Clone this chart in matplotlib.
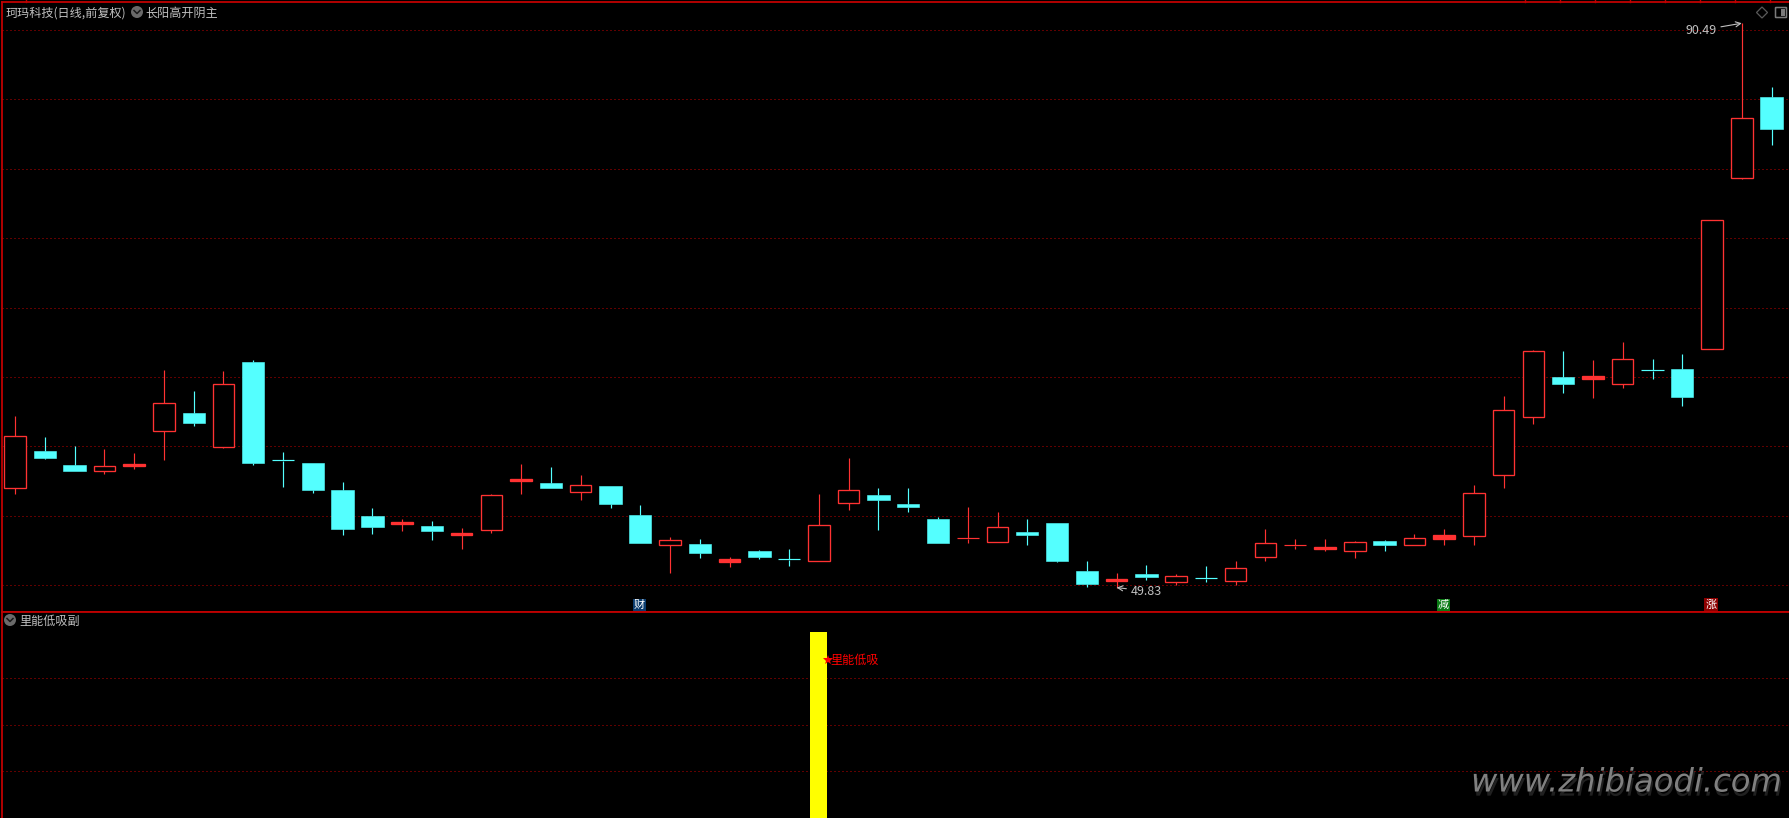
#coding=utf-8
import matplotlib
matplotlib.use('Agg')
from matplotlib import pyplot as plt
from matplotlib.patches import Rectangle, Circle, Polygon, FancyBboxPatch
import matplotlib.patheffects as pe

plt.rcParams['font.family'] = ['Noto Sans CJK SC', 'DejaVu Sans']

# candle values, one per day
tops = [60.72, 59.67, 58.66, 58.56, 58.73, 63.10, 62.41, 64.47, 66.08, 59.02,
        58.80, 56.86, 54.98, 54.55, 54.26, 53.76, 56.47, 57.65, 57.36, 57.19,
        57.15, 55.06, 53.23, 52.97, 51.86, 52.46, 51.89, 54.31, 56.83, 56.50,
        55.85, 54.77, 53.40, 54.17, 53.83, 54.48, 51.02, 50.45, 50.81, 50.64,
        50.50, 51.22, 53.02, 52.87, 52.75, 53.09, 53.18, 53.38, 53.59, 56.62,
        62.60, 66.85, 65.00, 65.05, 66.27, 65.50, 65.57, 76.31, 83.63, 85.17]
bottoms = [56.98, 59.16, 58.23, 58.25, 58.59, 61.13, 61.69, 59.98, 58.80, 58.97,
           56.86, 54.05, 54.19, 54.41, 53.91, 53.62, 54.00, 57.51, 57.00, 56.74,
           55.85, 53.04, 52.92, 52.32, 51.69, 52.03, 51.84, 51.77, 55.94, 56.14,
           55.63, 53.04, 53.35, 53.13, 53.62, 51.74, 50.09, 50.30, 50.59, 50.25,
           50.45, 50.33, 52.06, 52.83, 52.61, 52.49, 52.90, 52.92, 53.35, 53.57,
           57.96, 62.14, 64.50, 64.88, 64.52, 65.46, 63.56, 67.05, 79.36, 82.89]
highs = [62.19, 60.68, 60.00, 59.81, 59.52, 65.50, 63.99, 65.43, 66.22, 59.60,
         58.80, 57.44, 55.56, 54.77, 54.63, 54.12, 56.57, 58.73, 58.52, 57.94,
         57.15, 55.78, 53.47, 53.33, 52.03, 52.54, 52.61, 56.57, 59.16, 57.00,
         57.00, 54.91, 55.63, 55.27, 54.77, 54.48, 51.74, 50.88, 51.45, 50.81,
         51.38, 51.74, 54.05, 53.33, 53.33, 53.18, 53.26, 53.69, 54.05, 57.22,
         63.63, 66.95, 66.87, 66.22, 67.52, 66.30, 66.66, 76.31, 90.49, 85.89]
lows = [56.57, 59.09, 58.23, 58.01, 58.37, 59.02, 61.47, 59.88, 58.66, 57.07,
        56.64, 53.62, 53.69, 53.91, 53.26, 52.61, 53.76, 56.57, 57.00, 56.14,
        55.56, 53.04, 50.88, 51.96, 51.31, 51.89, 51.38, 51.77, 55.42, 53.98,
        55.27, 53.04, 53.04, 53.13, 52.90, 51.67, 49.87, 49.83, 50.37, 50.01,
        50.23, 49.99, 51.74, 52.61, 52.47, 51.96, 52.47, 52.92, 52.90, 52.90,
        57.00, 61.61, 63.85, 63.49, 64.21, 64.85, 62.91, 67.05, 79.26, 81.71]
# 1 = up day (hollow red), 0 = down day (solid cyan)
ups = [1, 0, 0, 1, 1, 1, 0, 1, 0, 0,
       0, 0, 0, 1, 0, 1, 1, 1, 0, 1,
       0, 0, 1, 0, 1, 0, 0, 1, 1, 0,
       0, 0, 1, 1, 0, 0, 0, 1, 0, 1,
       0, 1, 1, 1, 1, 1, 0, 1, 1, 1,
       1, 1, 0, 1, 1, 0, 0, 1, 1, 0]

price_levels = [90, 85, 80, 75, 70, 65, 60, 55, 50]
signal_levels = [1, 2, 3]
signal_day = 27
signal_value = 4
signal_pos = 3.39
signal_label = '里能低吸'
flag_days = [21, 48, 57]
flag_labels = ['财', '减', '涨']
flag_colors = ['#0b3c6e', '#0a7a14', '#8c0000']
title_stock = '珂玛科技(日线,前复权)'
title_main = '长阳高开阴主'
title_sub = '里能低吸副'

RED = '#ff3232'
CYAN = '#54ffff'
FRAME = '#c00000'
GRID = '#c00000'
GREY = '#c0c0c0'

W, H = 1789, 818
fig = plt.figure(figsize=(W / 100, H / 100), dpi=100, facecolor='black')

ax = fig.add_axes([2 / W, (H - 612) / H, (W - 2) / W, 610 / H], facecolor='black')
ax2 = fig.add_axes([2 / W, 0, (W - 2) / W, (H - 612) / H], facecolor='black')
over = fig.add_axes([0, 0, 1, 1], facecolor='none')
over.set_xlim(0, W)
over.set_ylim(H, 0)
over.axis('off')

for a in (ax, ax2):
    a.set_xlim(-0.44, 59.585)
    a.set_xticks([])
    a.set_yticks([])
    for s in a.spines.values():
        s.set_color(FRAME)
        s.set_linewidth(1.3)
    a.spines['right'].set_visible(False)
ax.set_ylim(48.07, 92.02)
ax2.set_ylim(0, 4.42)
ax2.spines['bottom'].set_visible(False)

for p in price_levels:
    ax.axhline(p, color=GRID, lw=0.72, ls=(0, (1, 3)), zorder=1)
for v in signal_levels:
    ax2.axhline(v, color=GRID, lw=0.72, ls=(0, (1, 3)), zorder=1)

# candles
for i in range(len(tops)):
    c = RED if ups[i] else CYAN
    ax.plot([i, i], [tops[i], highs[i]], color=c, lw=0.85, zorder=3, solid_capstyle='butt')
    ax.plot([i, i], [lows[i], bottoms[i]], color=c, lw=0.85, zorder=3, solid_capstyle='butt')
    h = tops[i] - bottoms[i]
    if h < 0.08:
        # doji, just a thin cross
        ax.plot([i - 0.37, i + 0.37], [tops[i], tops[i]], color=c, lw=0.85, zorder=4, solid_capstyle='butt')
    elif ups[i]:
        ax.add_patch(Rectangle((i - 0.36, bottoms[i]), 0.72, h, facecolor='black' if h > 0.3 else RED,
                               edgecolor=RED, lw=0.95, zorder=4))
    else:
        ax.add_patch(Rectangle((i - 0.375, bottoms[i]), 0.75, h, facecolor=CYAN,
                               edgecolor=CYAN, lw=0.4, zorder=4))

# high / low labels
ax.annotate('90.49', xy=(58, 90.49), xytext=(-18, -5), textcoords='offset points', color=GREY,
            fontsize=9, ha='right', va='center',
            arrowprops=dict(arrowstyle='->', color=GREY, lw=0.8, shrinkA=1, shrinkB=0))
ax.annotate('49.83', xy=(37, 49.83), xytext=(10, -2.5), textcoords='offset points', color=GREY,
            fontsize=9, ha='left', va='center',
            arrowprops=dict(arrowstyle='->', color=GREY, lw=0.8, shrinkA=1, shrinkB=0))

# flags above the separator
for d, t, c in zip(flag_days, flag_labels, flag_colors):
    ax.text(d - 0.03, 48.6, t, color='white', fontsize=8, ha='center', va='center', zorder=6,
            bbox=dict(boxstyle='square,pad=0.1', facecolor=c, edgecolor='none'))

# lower panel
ax2.bar([signal_day], [signal_value], width=0.57, color='#ffff00', zorder=3)
ax2.plot([signal_day + 0.29], [signal_pos], marker='*', ms=7, color='#ff0000', mew=0, zorder=5)
ax2.text(signal_day + 0.4, signal_pos, signal_label, color='#ff0000', fontsize=8.7,
         ha='left', va='center', zorder=5)

# header texts and icons
over.text(6, 13, title_stock, color=GREY, fontsize=8.7, ha='left', va='center')
over.text(145, 13, title_main, color=GREY, fontsize=8.7, ha='left', va='center')
over.text(19, 621, title_sub, color=GREY, fontsize=8.7, ha='left', va='center')
for cx, cy in [(137, 12), (10, 620)]:
    over.add_patch(Circle((cx, cy), 6, facecolor='#6a6a6a', edgecolor='none'))
    over.plot([cx - 3, cx, cx + 3], [cy - 1.5, cy + 1.5, cy - 1.5], color='#1a1a1a', lw=1.1)
over.add_patch(Polygon([(1762, 7), (1767.5, 12.5), (1762, 18), (1756.5, 12.5)], fill=False, edgecolor='#5a5a5a', lw=0.9))
over.add_patch(FancyBboxPatch((1776, 8), 10, 9, boxstyle='round,pad=0.5', fill=False, edgecolor='#7a7a7a', lw=1.1))
over.add_patch(Rectangle((1781, 9), 4, 7, facecolor='#7a7a7a', edgecolor='none'))

# ruler ticks on top edge
for x in [26] + list(range(1525, W, 35)):
    over.plot([x, x], [0, 2], color=FRAME, lw=1)

# watermark
over.text(1471, 783, 'www.zhibiaodi.com', color='#808080', fontsize=23.2, style='italic',
          family='DejaVu Sans', ha='left', va='center',
          path_effects=[pe.withSimplePatchShadow(offset=(1, -3), shadow_rgbFace='#404040', alpha=0.5)])

plt.savefig('out.png', dpi=100, facecolor='black')
